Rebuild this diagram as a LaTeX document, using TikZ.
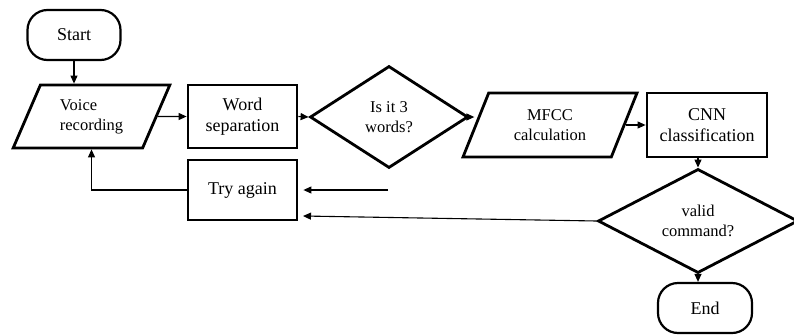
\documentclass[tikz,border=0pt]{standalone}
\usepackage{fontspec}
\setmainfont{Liberation Serif}
\usetikzlibrary{shapes.geometric,arrows.meta}
\begin{document}
\begin{tikzpicture}[x=1pt,y=-1pt,
  shp/.style={draw, line width=2.8pt, inner sep=0pt, align=center},
  boxtxt/.style={font=\fontsize{18}{21}\selectfont},
  smtxt/.style={font=\fontsize{16.5}{20}\selectfont},
  term/.style={shp, line width=2.2pt, boxtxt, rectangle, rounded corners=20pt},
  proc/.style={shp, boxtxt, rectangle},
  io/.style={shp, smtxt, trapezium, trapezium left angle=64, trapezium right angle=116, trapezium stretches=true},
  dec/.style={shp, smtxt, diamond},
  arr/.style={line width=1.1pt, -{Triangle[length=8pt,width=7pt]}}
]
\useasboundingbox (0,0) rectangle (794,335);

\node[term, minimum width=93pt, minimum height=50pt] (start) at (74,35) {Start};
\node[io, minimum width=157pt, minimum height=63pt, align=left] (voice) at (91.5,116.5) {Voice\\recording};
\node[proc, minimum width=109pt, minimum height=63pt] (word) at (242.5,116.5) {Word\\separation};
\node[dec, minimum width=158pt, minimum height=102pt] (isit) at (389,117) {Is it 3\\words?};
\node[io, minimum width=174pt, minimum height=64pt] (mfcc) at (550,125) {MFCC\\calculation};
\node[proc, minimum width=120pt, minimum height=64pt] (cnn) at (707,125) {CNN\\classification};
\node[dec, minimum width=200pt, minimum height=103pt] (valid) at (698,221) {valid\\command?};
\node[term, minimum width=94pt, minimum height=50pt] (end) at (705,308) {End};
\node[proc, minimum width=109pt, minimum height=60pt] (try) at (242.5,190) {Try again};

\coordinate (f1) at (388,190);
\coordinate (f2) at (303,216);

\draw[arr] (start.south) -- (start.south |- voice.north);
\draw[arr] (voice.east) -- (word.west);
\draw[arr] (word.east) -- (isit.west);
\draw[arr] (isit.east) -- (isit.east -| mfcc.west);
\draw[arr] (mfcc.east) -- (mfcc.east -| cnn.west);
\draw[arr] (valid.north |- cnn.south) -- (valid.north);
\draw[arr] (valid.south) -- (valid.south |- end.north);
\draw[arr, shorten >=5pt] (f1) -- (try.east);
\draw[arr] (valid.west) -- (f2);
\draw[arr] (try.west) -| (voice.south);
\end{tikzpicture}
\end{document}
